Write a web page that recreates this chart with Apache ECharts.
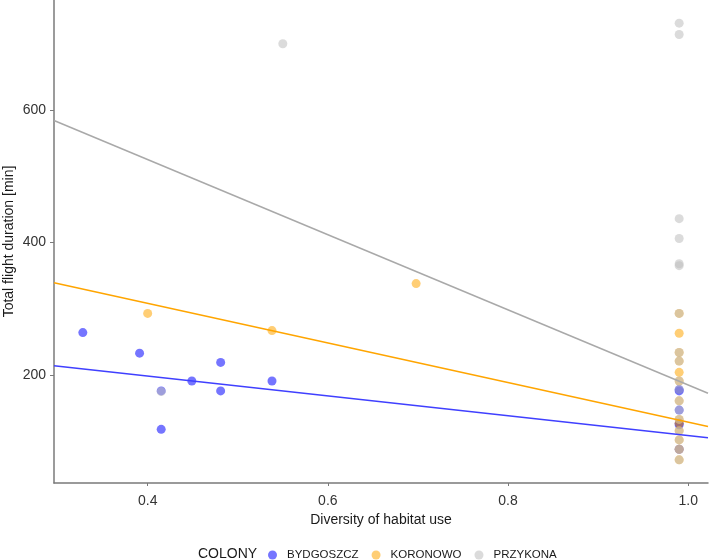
<!DOCTYPE html>
<html>
<head>
<meta charset="utf-8">
<script src="https://cdn.jsdelivr.net/npm/echarts@6/dist/echarts.min.js"></script>
<style>
html,body{margin:0;padding:0;background:#fff;}
#chart{width:709px;height:560px;}
</style>
</head>
<body>
<div id="chart"></div>
<script>
// ---- data ----
const colonies = ["BYDGOSZCZ", "KORONOWO", "PRZYKONA"];

const bydX = [0.328, 0.391, 0.415, 0.415, 0.449, 0.481, 0.481, 0.538, 0.99, 0.99, 0.99, 0.99, 0.99, 0.99];
const bydY = [264, 233, 176, 118, 191, 219, 176, 191, 178, 176, 147, 127, 125, 88];

const korX = [0.400, 0.538, 0.698, 0.99, 0.99, 0.99, 0.99, 0.99, 0.99, 0.99, 0.99, 0.99, 0.99, 0.99, 0.99, 0.99];
const korY = [293, 267, 338, 293, 263, 234, 221, 204, 191, 161, 133, 127, 116, 102, 88, 72];

const przX = [0.415, 0.55, 0.99, 0.99, 0.99, 0.99, 0.99, 0.99, 0.99, 0.99, 0.99, 0.99, 0.99, 0.99, 0.99, 0.99, 0.99, 0.99, 0.99, 0.99];
const przY = [175, 700, 731, 714, 436, 406, 368, 365, 293, 234, 221, 191, 178, 161, 147, 133, 116, 102, 88, 72];

// linear fits: [intercept, slope]
const bydFit = [258.3, -149.7];
const korFit = [427.8, -298.9];
const przFit = [751.8, -566.8];

const xTicks = [0.4, 0.6, 0.8, 1.0];
const yTicks = [200, 400, 600];
const xRange = [0.296, 1.022];
const yRange = [37, 766];

// ---- build ----
const colors = ["rgba(0,0,255,0.68)", "rgba(255,165,0,0.68)", "rgba(190,190,190,0.7)"];
const lineColors = ["#4040ff", "#ffa500", "#a9a9a9"];
const xs = [bydX, korX, przX];
const ys = [bydY, korY, przY];
const fits = [bydFit, korFit, przFit];

const series = [];
colonies.forEach((name, i) => {
  series.push({
    name: name,
    type: 'scatter',
    data: xs[i].map((x, j) => [x, ys[i][j]]),
    symbol: 'circle',
    symbolSize: 9,
    itemStyle: { color: colors[i] },
    z: 2 + i
  });
});
colonies.forEach((name, i) => {
  const f = fits[i];
  series.push({
    name: name + '_fit',
    type: 'line',
    data: xRange.map(x => [x, f[0] + f[1] * x]),
    symbol: 'none',
    lineStyle: { color: lineColors[i], width: 1.5 },
    silent: true,
    z: 6,
    clip: true
  });
});

const chart = echarts.init(document.getElementById('chart'), null, { renderer: 'canvas' });
const FONT = 'Liberation Sans, Arial, sans-serif';
chart.setOption({
  animation: false,
  backgroundColor: '#fff',
  grid: { left: 54, right: 1, top: 0, bottom: 77, containLabel: false, outerBoundsMode: 'none' },
  title: {
    text: 'COLONY',
    left: 198,
    top: 547,
    textStyle: { fontFamily: FONT, fontSize: 14, fontWeight: 'normal', color: '#1a1a1a' },
    padding: 0
  },
  legend: {
    data: colonies.map((n, i) => ({ name: n, itemStyle: { color: colors[i] } })),
    left: 268,
    top: 549,
    padding: 0,
    icon: 'circle',
    itemWidth: 9,
    itemHeight: 9,
    itemGap: 13,
    textStyle: { fontFamily: FONT, fontSize: 11.5, color: '#1a1a1a', padding: [0, 0, 0, 5] }
  },
  xAxis: {
    type: 'value',
    min: xRange[0],
    max: xRange[1],
    name: 'Diversity of habitat use',
    nameLocation: 'middle',
    nameGap: 30,
    nameMoveOverlap: false,
    nameTextStyle: { fontFamily: FONT, fontSize: 14, color: '#1a1a1a' },
    axisLine: { show: true, lineStyle: { color: '#7a7a7a', width: 1.5 } },
    axisTick: { show: true, customValues: xTicks, length: 3, lineStyle: { color: '#7a7a7a' } },
    axisLabel: {
      customValues: xTicks,
      formatter: v => v.toFixed(1),
      fontFamily: FONT, fontSize: 14, color: '#333', margin: 11
    },
    splitLine: { show: false }
  },
  yAxis: {
    type: 'value',
    min: yRange[0],
    max: yRange[1],
    name: 'Total flight duration [min]',
    nameLocation: 'middle',
    nameGap: 38,
    nameRotate: 90,
    nameMoveOverlap: false,
    nameTextStyle: { fontFamily: FONT, fontSize: 14, color: '#1a1a1a' },
    axisLine: { show: true, lineStyle: { color: '#7a7a7a', width: 1.5 } },
    axisTick: { show: true, customValues: yTicks, length: 4, lineStyle: { color: '#7a7a7a' } },
    axisLabel: {
      customValues: yTicks,
      fontFamily: FONT, fontSize: 14, color: '#333', margin: 8
    },
    splitLine: { show: false }
  },
  series: series
});
</script>
</body>
</html>
